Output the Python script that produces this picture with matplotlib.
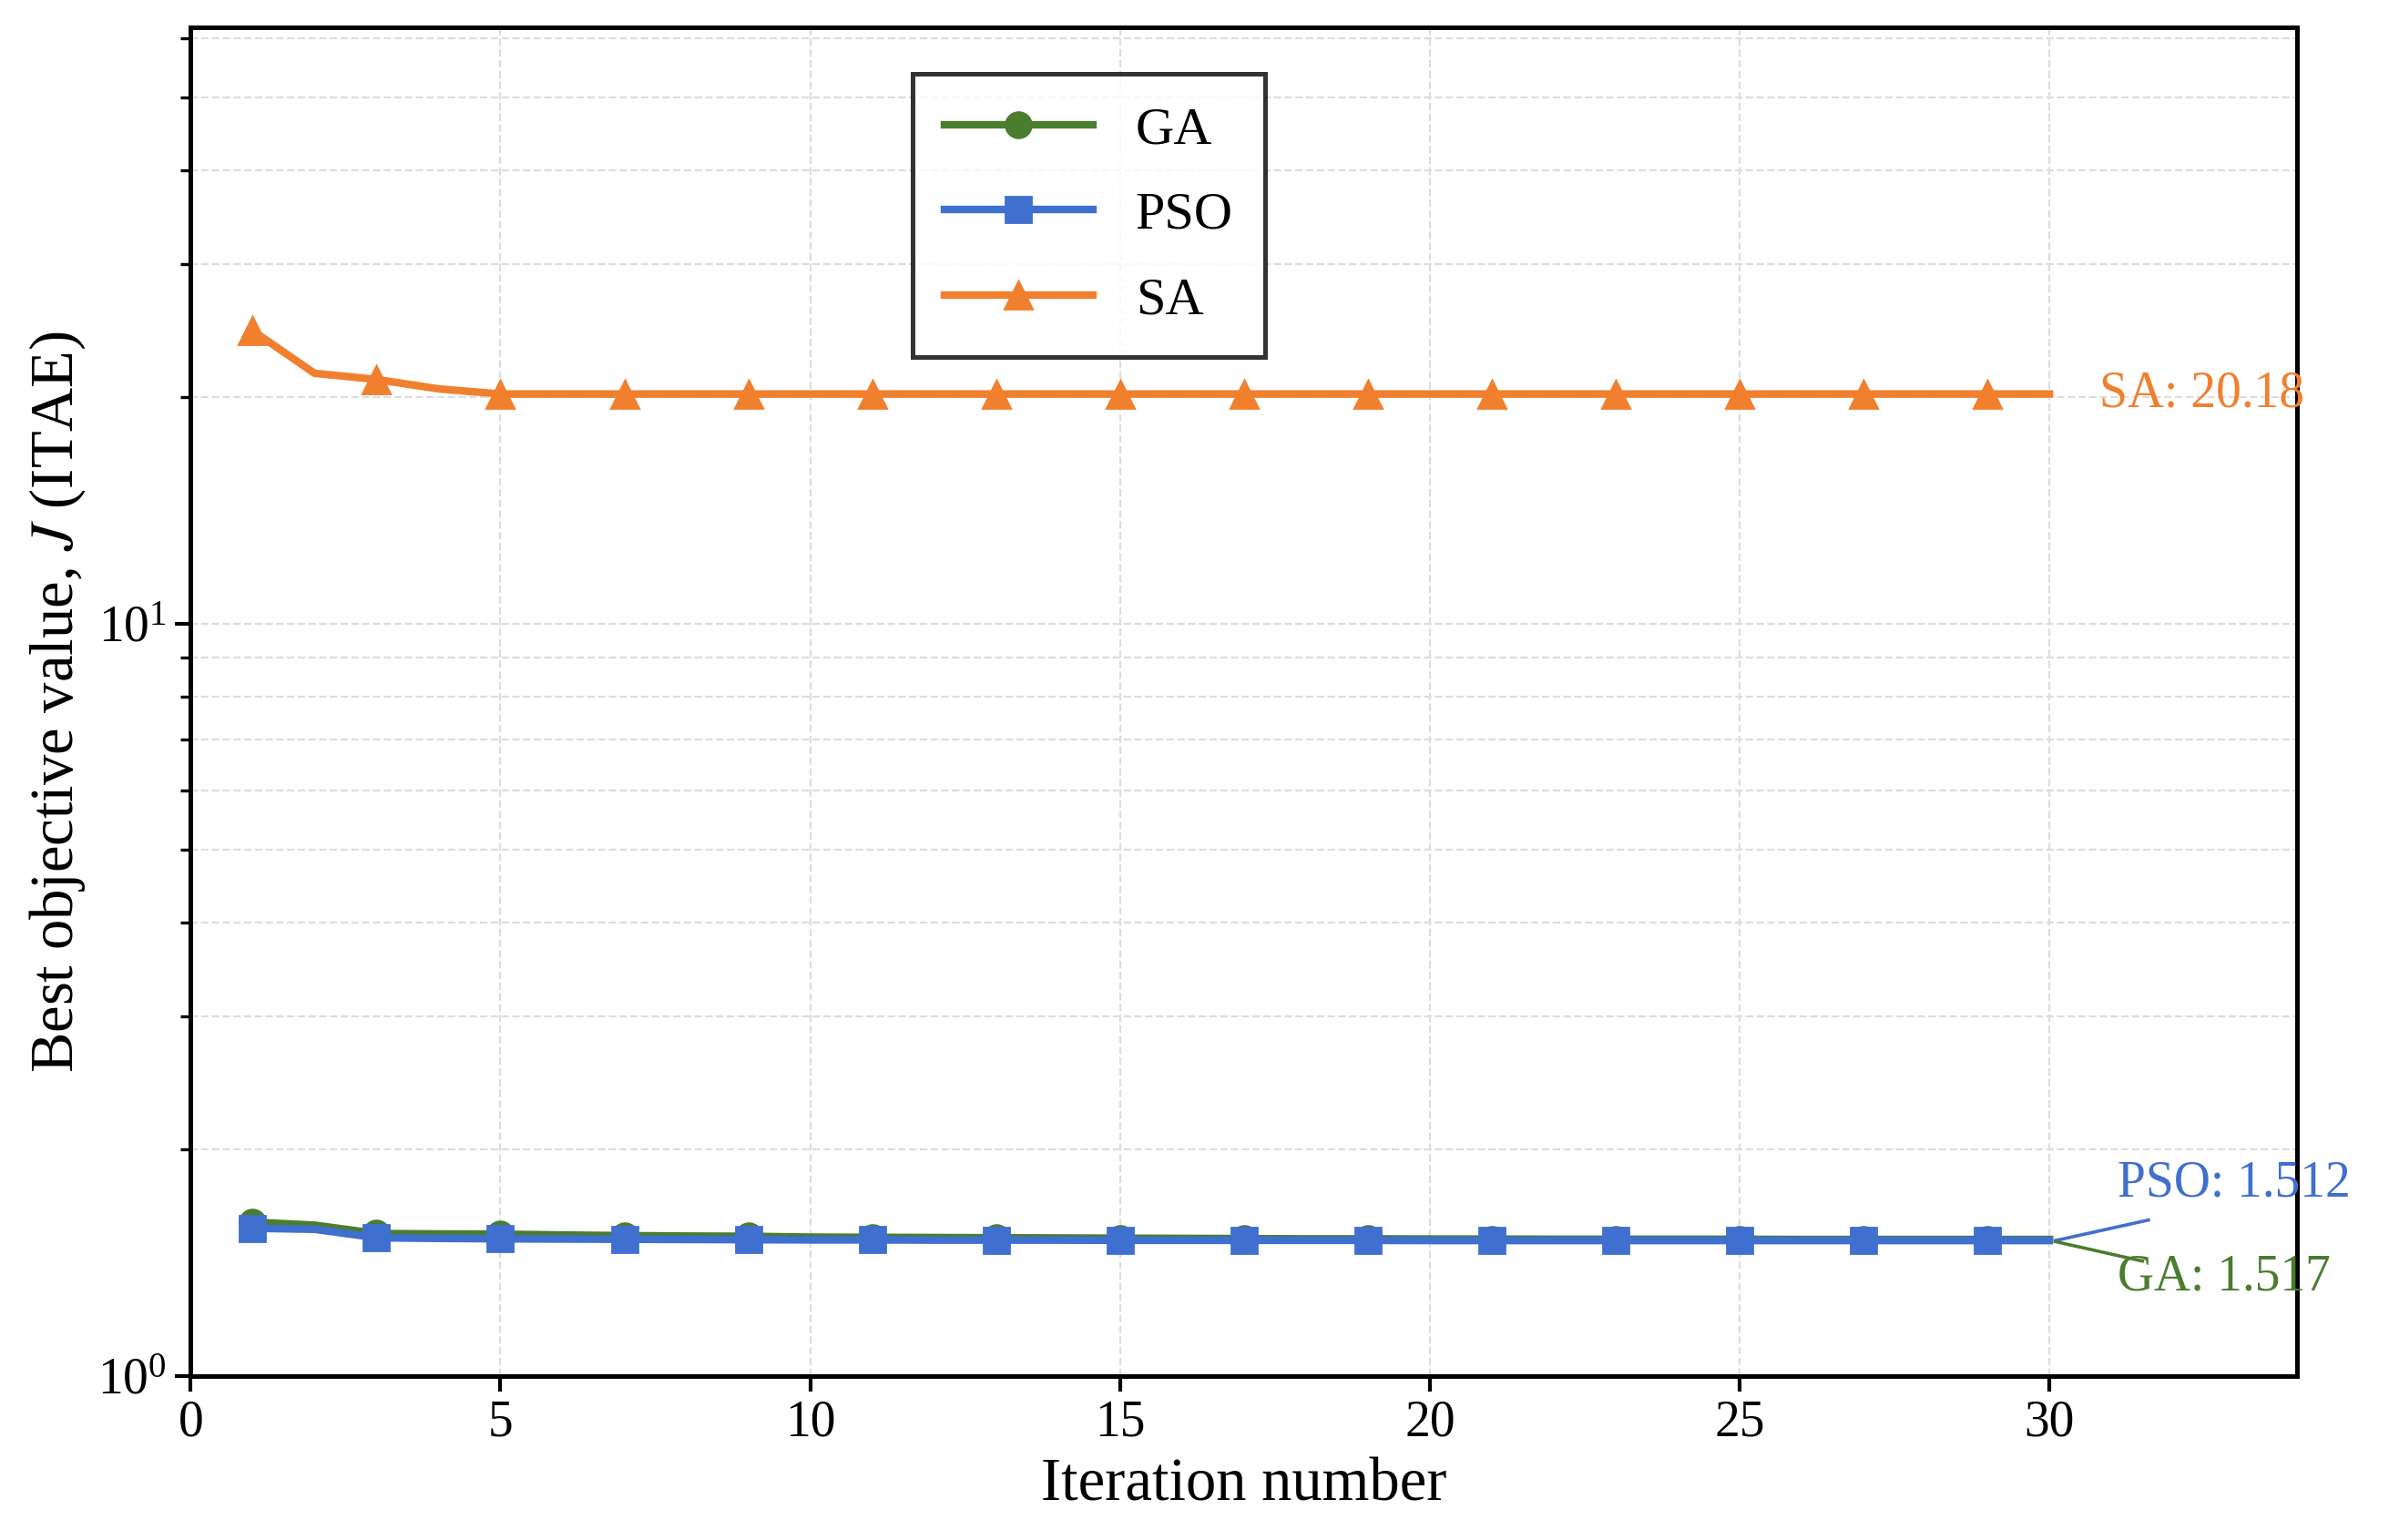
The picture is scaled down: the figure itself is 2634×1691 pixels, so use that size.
import matplotlib.pyplot as plt
import numpy as np

plt.rcParams['font.family'] = ['Liberation Serif', 'DejaVu Serif']
plt.rcParams['mathtext.fontset'] = 'stix'

iters = np.arange(1, 31)
sa = [24.5, 21.5, 21.1, 20.5, 20.18] + [20.18] * 25
ga = [1.60, 1.585, 1.545, 1.543, 1.542, 1.538, 1.535, 1.533, 1.532, 1.528,
      1.527, 1.526, 1.525, 1.524, 1.523, 1.522, 1.521, 1.520, 1.520, 1.519,
      1.519, 1.518, 1.518, 1.518, 1.518, 1.517, 1.517, 1.517, 1.517, 1.517]
pso = [1.57, 1.565, 1.525, 1.522, 1.520, 1.519, 1.518, 1.517, 1.516, 1.515,
       1.515, 1.514, 1.514, 1.514, 1.513, 1.513, 1.513, 1.513, 1.513, 1.512,
       1.512, 1.512, 1.512, 1.512, 1.512, 1.512, 1.512, 1.512, 1.512, 1.512]

c_ga, c_pso, c_sa = '#4a7d2e', '#3f6fcf', '#f07f2e'

fig, ax = plt.subplots(figsize=(13.17, 8.455), dpi=200)
ax.plot(iters, ga, '-o', color=c_ga, lw=3, ms=10, markevery=2, label='GA')
ax.plot(iters, pso, '-s', color=c_pso, lw=3, ms=10, markevery=2, label='PSO')
ax.plot(iters, sa, '-^', color=c_sa, lw=3, ms=11, markevery=2, label='SA')
ax.set_yscale('log')
ax.set_xlim(0, 34)
ax.set_ylim(1, 62)
ax.grid(True, which='both', ls='--', color='#dddddd', lw=0.8)
for s in ax.spines.values():
    s.set_linewidth(1.8)
ax.tick_params(labelsize=20, width=1.5, length=6)
ax.tick_params(which='minor', width=1.2, length=4)
ax.set_xlabel('Iteration number', fontsize=24)
ax.set_ylabel('Best objective value, $J$ (ITAE)', fontsize=24)

ax.text(30.8, sa[-1], f'SA: {sa[-1]:.2f}', color=c_sa, fontsize=20, va='center')
# leader lines for PSO / GA labels
ax.plot([30.1, 31.6], [pso[-1], 1.61], color=c_pso, lw=1.3)
ax.plot([30.1, 31.5], [ga[-1] - 0.01, 1.42], color=c_ga, lw=1.3)
ax.text(31.1, 1.80, f'PSO: {pso[-1]:.3f}', color=c_pso, fontsize=20, va='center')
ax.text(31.1, 1.35, f'GA: {ga[-1]:.3f}', color=c_ga, fontsize=20, va='center')

leg = ax.legend(loc='upper left', bbox_to_anchor=(0.33, 0.985), fontsize=21,
                fancybox=False, edgecolor='black', handlelength=2.8,
                borderpad=0.6, labelspacing=0.7)
leg.get_frame().set_linewidth(1.8)

plt.tight_layout()
plt.savefig('out.png')
